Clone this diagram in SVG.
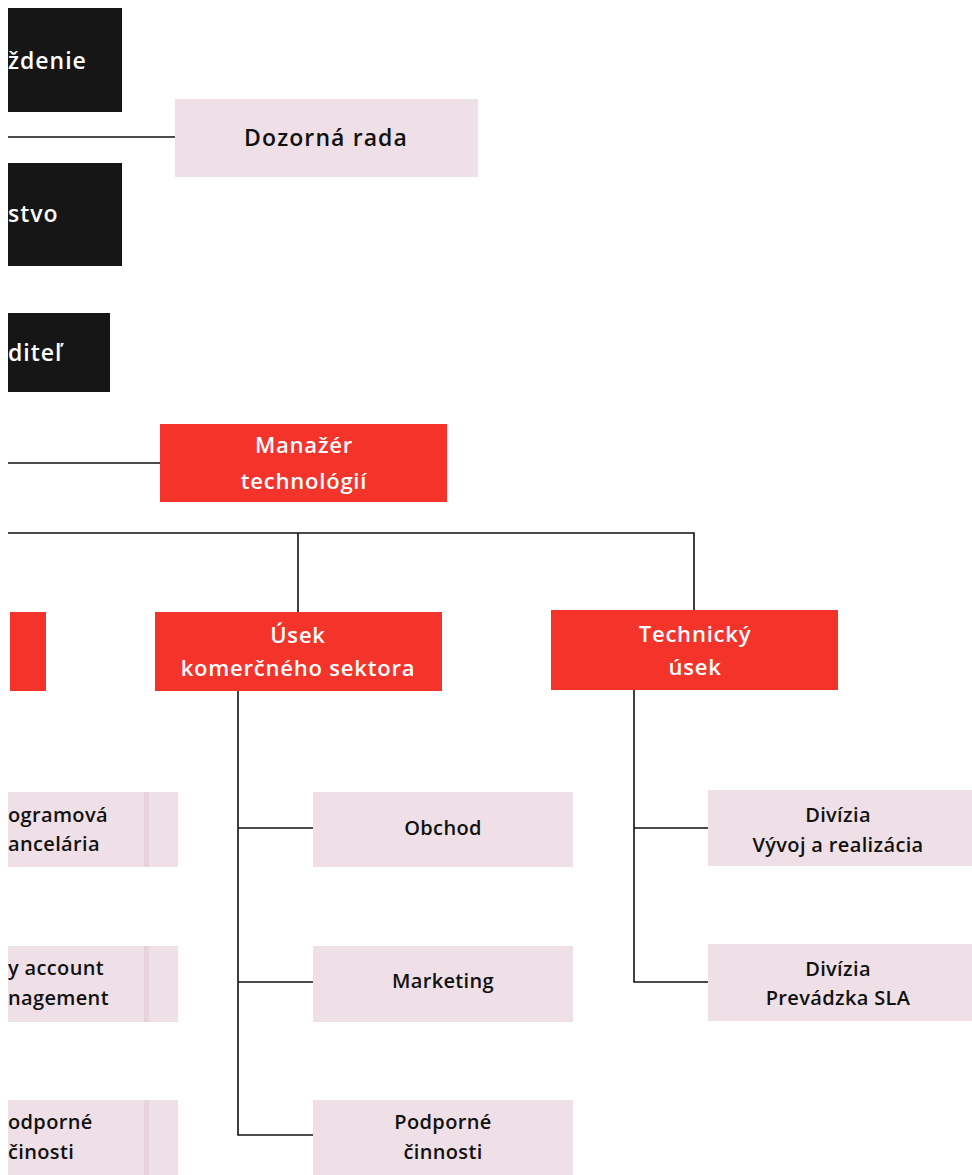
<svg xmlns="http://www.w3.org/2000/svg" width="972" height="1175" viewBox="0 0 972 1175">
<style>
.blk{fill:#161616}
.red{fill:#f4342b}
.pink{fill:#eee0e6}
.stripe{fill:#e6d3db}
.tw{fill:#ffffff;font-family:"Open Sans","Liberation Sans",sans-serif;font-weight:600;font-size:22px;letter-spacing:0.8px}
.tb{fill:#ffffff;font-family:"Open Sans","Liberation Sans",sans-serif;font-weight:600;font-size:23px;letter-spacing:1px}
.tk{fill:#111111;font-family:"Open Sans","Liberation Sans",sans-serif;font-weight:600;font-size:20px;letter-spacing:0.35px}
.tkl{fill:#111111;font-family:"Open Sans","Liberation Sans",sans-serif;font-weight:600;font-size:23px;letter-spacing:1.1px}
.c{text-anchor:middle}
.ln{stroke:#111111;stroke-width:1.6;fill:none}
</style>
<rect width="972" height="1175" fill="#ffffff"/>
<g id="connectors">
<path class="ln" d="M8 137H175"/>
<path class="ln" d="M8 463H160"/>
<path class="ln" d="M8 533H694V610"/>
<path class="ln" d="M298 533V612"/>
<path class="ln" d="M238 691V1135H313"/>
<path class="ln" d="M238 828H313"/>
<path class="ln" d="M238 982H313"/>
<path class="ln" d="M634 690V982H708"/>
<path class="ln" d="M634 828H708"/>
</g>
<g id="node-zhromazdenie">
<rect class="blk" x="8" y="8" width="114" height="104"/>
<text class="tb" x="8" y="69">ždenie</text>
</g>
<g id="node-predstavenstvo">
<rect class="blk" x="8" y="163" width="114" height="103"/>
<text class="tb" x="8" y="222">stvo</text>
</g>
<g id="node-riaditel">
<rect class="blk" x="8" y="313" width="102" height="79"/>
<text class="tb" x="8" y="361">diteľ</text>
</g>
<g id="node-dozorna-rada">
<rect class="pink" x="175" y="99" width="303" height="78"/>
<text class="tkl c" x="326" y="146">Dozorná rada</text>
</g>
<g id="node-manazer">
<rect class="red" x="160" y="424" width="287" height="78"/>
<text class="tw c" x="304" y="453">Manažér</text>
<text class="tw c" x="304" y="489">technológií</text>
</g>
<g id="node-left-red">
<rect class="red" x="10" y="612" width="36" height="79"/>
</g>
<g id="node-komercny">
<rect class="red" x="155" y="612" width="287" height="79"/>
<text class="tw c" x="298" y="643">Úsek</text>
<text class="tw c" x="298" y="676">komerčného sektora</text>
</g>
<g id="node-technicky">
<rect class="red" x="551" y="610" width="287" height="80"/>
<text class="tw c" x="695" y="642">Technický</text>
<text class="tw c" x="695" y="675">úsek</text>
</g>
<g id="node-programova">
<rect class="pink" x="8" y="792" width="170" height="75"/>
<rect class="stripe" x="144" y="792" width="5" height="75"/>
<text class="tk" x="8" y="822">ogramová</text>
<text class="tk" x="8" y="851">ancelária</text>
</g>
<g id="node-key-account">
<rect class="pink" x="8" y="946" width="170" height="76"/>
<rect class="stripe" x="144" y="946" width="5" height="76"/>
<text class="tk" x="8" y="975">y account</text>
<text class="tk" x="8" y="1005">nagement</text>
</g>
<g id="node-podporne-left">
<rect class="pink" x="8" y="1100" width="170" height="75"/>
<rect class="stripe" x="144" y="1100" width="5" height="75"/>
<text class="tk" x="8" y="1129">odporné</text>
<text class="tk" x="8" y="1159">činosti</text>
</g>
<g id="node-obchod">
<rect class="pink" x="313" y="792" width="260" height="75"/>
<text class="tk c" x="443" y="835">Obchod</text>
</g>
<g id="node-marketing">
<rect class="pink" x="313" y="946" width="260" height="76"/>
<text class="tk c" x="443" y="988">Marketing</text>
</g>
<g id="node-podporne">
<rect class="pink" x="313" y="1100" width="260" height="75"/>
<text class="tk c" x="443" y="1129">Podporné</text>
<text class="tk c" x="443" y="1159">činnosti</text>
</g>
<g id="node-vyvoj">
<rect class="pink" x="708" y="790" width="264" height="76"/>
<text class="tk c" x="838" y="822">Divízia</text>
<text class="tk c" x="838" y="852">Vývoj a realizácia</text>
</g>
<g id="node-prevadzka">
<rect class="pink" x="708" y="944" width="264" height="77"/>
<text class="tk c" x="838" y="976">Divízia</text>
<text class="tk c" x="838" y="1005">Prevádzka SLA</text>
</g>
</svg>
